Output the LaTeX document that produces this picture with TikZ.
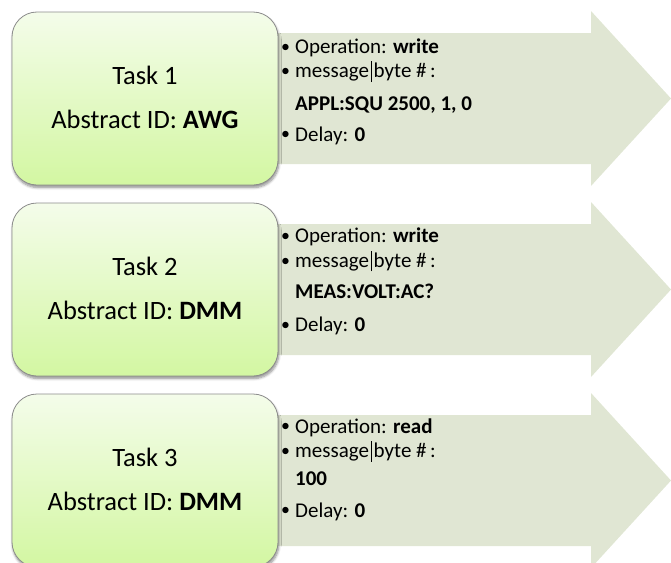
\documentclass[tikz,border=0pt]{standalone}
\usepackage{fontspec}
\setmainfont{Carlito}
\usetikzlibrary{shadows.blur}

\definecolor{arrowfill}{HTML}{E0E6D3}
\definecolor{boxtop}{HTML}{F4FCEA}
\definecolor{boxbottom}{HTML}{D3F7A2}
\definecolor{boxline}{HTML}{8C8C8C}

% One row: task box on the left, block arrow with its details on the right
% #1 number, #2 box top, #3 abstract id, #4 operation, #5 message value,
% #6 baseline of first bullet, #7 baseline of value, #8 baseline of delay
\newcommand{\taskrow}[8]{%
  \path[arrowbody] (268,#2+21) -- (591,#2+21) -- (591,#2-1) -- (671,#2+86.5)
        -- (591,#2+174) -- (591,#2+152) -- (268,#2+152) -- cycle;
  \node[taskbox] (box#1) at (145,#2+86.5) {};
  \node[titletext] (title#1) at (145,#2+72) {Task #1};
  \node[titletext] (id#1) at (145,#2+116) {Abstract ID: \textbf{#3}};
  \node[infotext] (op#1) at (281,#6) {\bul Operation: \textbf{#4}};
  \node[infotext] (msg#1) at (281,#6+24.5) {\bul message\kern0.08em\rule[-0.2em]{0.06em}{0.98em}\kern0.08em byte \#\,:};
  \node[infotext] (val#1) at (295,#7) {\textbf{#5}};
  \node[infotext] (delay#1) at (281,#8) {\bul Delay: \textbf{0}};
}
\newcommand{\bul}{\makebox[14pt][l]{\raisebox{0.05em}{\scalebox{0.85}{\textbullet}}}}

\begin{document}
\begin{tikzpicture}[x=1pt,y=-1pt,
  arrowbody/.style={fill=arrowfill},
  taskbox/.style={rectangle, rounded corners=25pt, draw=boxline, line width=0.8pt,
    top color=boxtop, bottom color=boxbottom,
    minimum width=266pt, minimum height=173pt, inner sep=0pt,
    blur shadow={shadow xshift=0.8pt, shadow yshift=-2.5pt,
      shadow blur steps=6, shadow blur radius=2.5pt, shadow opacity=45}},
  titletext/.style={anchor=base, inner sep=0pt, font=\fontsize{26.5}{30}\selectfont},
  infotext/.style={anchor=base west, inner sep=0pt, font=\fontsize{21}{24}\selectfont}]

\useasboundingbox (0,0) rectangle (671,562);

\taskrow{1}{12}{AWG}{write}{APPL:SQU 2500, 1, 0}{53.3}{110}{141}
\taskrow{2}{203}{DMM}{write}{MEAS:VOLT:AC?}{242.7}{298}{331.7}
\taskrow{3}{394}{DMM}{read}{100}{433}{485}{517}

\end{tikzpicture}
\end{document}
